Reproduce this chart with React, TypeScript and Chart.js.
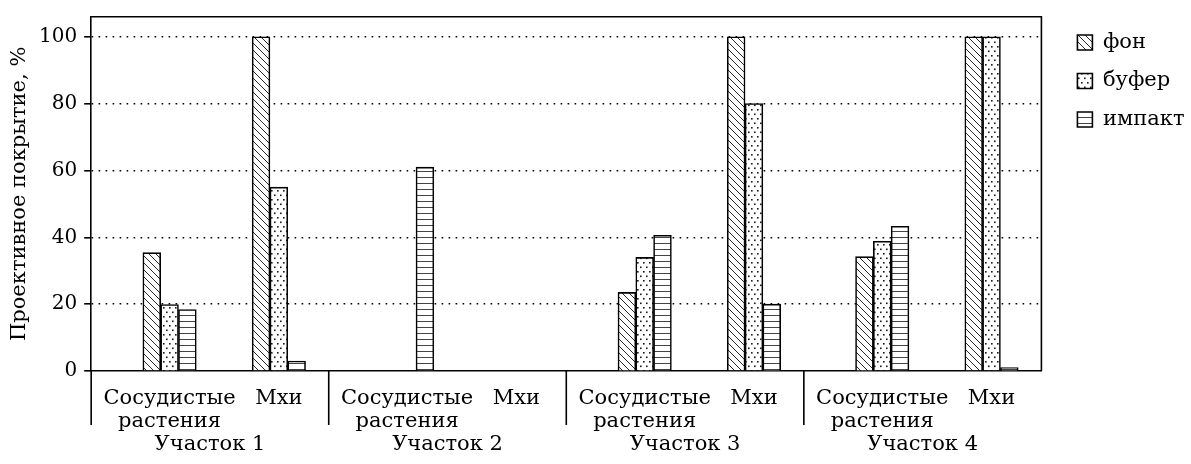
import React, { useEffect, useRef } from 'react';
import { Chart, registerables } from 'chart.js';

Chart.register(...registerables);

// ---- data ----
const plots = ['Участок 1', 'Участок 2', 'Участок 3', 'Участок 4'];
const plantGroups: string[][] = [['Сосудистые', 'растения'], ['Мхи']];
const seriesNames = ['фон', 'буфер', 'импакт'];
// order: plot1 vascular, plot1 moss, plot2 vascular, plot2 moss, ...
const fonValues = [35.4, 100, null, null, 23.5, 100, 34.2, 100];
const buferValues = [19.9, 55, null, null, 34, 80, 38.8, 100];
const impaktValues = [18.4, 3, 61, null, 40.6, 20, 43.3, 1];
const yTicks = [0, 20, 40, 60, 80, 100];

// ---- layout (not data) ----
const plantOffsets = [0.33, 0.79]; // position of a plant group inside a plot, in plot widths
const FONT = 'DejaVu Serif';

const categoryPositions: number[] = [];
const xTickValues: number[] = [];
const xTickLabels: string[][] = [];
plots.forEach((name, p) => {
  plantGroups.forEach((lbl, k) => {
    categoryPositions.push(p + plantOffsets[k]);
    xTickValues.push(p + plantOffsets[k]);
    xTickLabels.push(lbl);
  });
});
plots.forEach((name, p) => {
  xTickValues.push(p + 0.5);
  xTickLabels.push(['', '', name]);
});

function makePattern(kind: 'diag' | 'dots' | 'hlines'): CanvasPattern | string {
  const c = document.createElement('canvas');
  const g = c.getContext('2d');
  if (!g) return '#fff';
  if (kind === 'diag') {
    const s = 7;
    c.width = s; c.height = s;
    g.fillStyle = '#fff'; g.fillRect(0, 0, s, s);
    g.strokeStyle = '#2a2a2a'; g.lineWidth = 1;
    g.beginPath();
    g.moveTo(-1, -1); g.lineTo(s + 1, s + 1);
    g.moveTo(-1, s - 1); g.lineTo(1, s + 1);
    g.moveTo(s - 1, -1); g.lineTo(s + 1, 1);
    g.stroke();
  } else if (kind === 'dots') {
    c.width = 6; c.height = 9;
    g.fillStyle = '#fff'; g.fillRect(0, 0, 6, 9);
    g.fillStyle = '#1a1a1a';
    g.fillRect(1, 1, 1.6, 1.6);
    g.fillRect(4, 5.5, 1.6, 1.6);
  } else {
    c.width = 4; c.height = 6;
    g.fillStyle = '#fff'; g.fillRect(0, 0, 4, 6);
    g.fillStyle = '#444';
    g.fillRect(0, 3, 4, 1);
  }
  return g.createPattern(c, 'repeat') || '#fff';
}

export default function App() {
  const ref = useRef<HTMLCanvasElement>(null);
  useEffect(() => {
    document.body.style.margin = '0';
    const canvas = ref.current;
    if (!canvas) return;
    Chart.defaults.font.family = FONT;
    Chart.defaults.color = '#000';

    const patterns = [makePattern('diag'), makePattern('dots'), makePattern('hlines')];
    const seriesValues = [fonValues, buferValues, impaktValues];

    const framePlugin = {
      id: 'frame',
      afterDraw(chart: any) {
        const { ctx, chartArea } = chart;
        const xs = chart.scales.x;
        ctx.save();
        ctx.strokeStyle = '#000';
        ctx.lineWidth = 1.6;
        ctx.beginPath();
        const right = xs.getPixelForValue(plots.length);
        ctx.moveTo(chartArea.left, chartArea.top);
        ctx.lineTo(right, chartArea.top);
        ctx.lineTo(right, chartArea.bottom);
        for (let p = 0; p < plots.length; p++) {
          const px = xs.getPixelForValue(p);
          ctx.moveTo(px, chartArea.bottom);
          ctx.lineTo(px, chartArea.bottom + 54);
        }
        ctx.stroke();
        ctx.restore();
      },
    };

    const legendShift = {
      id: 'legendShift',
      afterLayout(chart: any) {
        const lg = chart.legend;
        if (!lg) return;
        const dx = chart.chartArea.right + 36 - 17.5 - lg.left;
        lg.left += dx; lg.right += dx;
        lg.top -= 2.2; lg.bottom -= 2.2;
      },
    };

    const chart = new Chart(canvas, {
      type: 'bar',
      data: {
        datasets: seriesNames.map((name, i) => ({
          label: name,
          data: seriesValues[i].map((v, j) => ({ x: categoryPositions[j], y: v })) as any,
          backgroundColor: patterns[i] as any,
          borderColor: '#000',
          borderWidth: 1.6,
          barThickness: 17.8,
        })),
      },
      options: {
        animation: false,
        responsive: true,
        maintainAspectRatio: false,
        layout: { padding: { top: 16.7, left: 0, right: 15, bottom: 0 } },
        plugins: {
          legend: {
            position: 'right',
            align: 'start',
            labels: {
              font: { family: FONT, size: 21 },
              color: '#000',
              boxWidth: 15,
              boxHeight: 15,
              padding: 17.5,
            },
          },
          tooltip: { enabled: false },
        },
        scales: {
          x: {
            type: 'linear',
            min: 0,
            max: plots.length,
            offset: false,
            afterBuildTicks: (scale: any) => {
              scale.ticks = xTickValues.map((value) => ({ value }));
            },
            ticks: {
              autoSkip: false,
              maxRotation: 0,
              minRotation: 0,
              padding: 8.2,
              font: { family: FONT, size: 21, lineHeight: 1.1 },
              color: '#000',
              callback: (_v: any, i: number) => xTickLabels[i],
            },
            grid: { display: false, drawTicks: true, tickLength: 7.3 },
            border: { display: true, color: '#000', width: 1.6 },
          },
          y: {
            type: 'linear',
            min: 0,
            max: 106,
            afterBuildTicks: (scale: any) => {
              scale.ticks = yTicks.map((value) => ({ value }));
            },
            ticks: {
              font: { family: FONT, size: 20, lineHeight: 0.95 },
              color: '#000',
              padding: 7,
            },
            grid: {
              color: (c: any) => (c.tick && c.tick.value === 0 ? 'rgba(0,0,0,0)' : '#000'),
              tickColor: '#000',
              lineWidth: 1.6,
              tickBorderDash: [],
              tickLength: 7,
            } as any,
            border: { display: true, color: '#000', width: 1.6, dash: [1.6, 5.4] } as any,
            title: {
              display: true,
              text: 'Проективное покрытие, %',
              font: { family: FONT, size: 21 },
              color: '#000',
              padding: { top: 6.8, bottom: 0 },
            },
          },
        },
      },
      plugins: [framePlugin, legendShift],
    });
    return () => chart.destroy();
  }, []);
  return (
    <div style={{ position: 'relative', width: 1191, height: 464 }}>
      <canvas ref={ref} />
    </div>
  );
}
